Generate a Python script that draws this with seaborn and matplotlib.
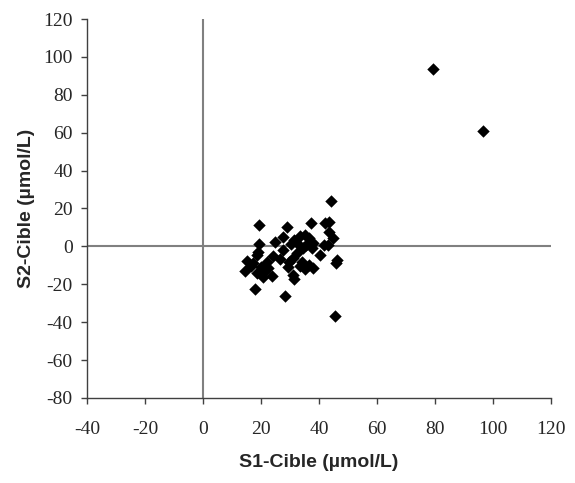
import matplotlib
matplotlib.use("Agg")
import matplotlib.pyplot as plt
import seaborn as sns
import pandas as pd

s1_cible = [79.2, 96.7, 45.6, 44.0,
            19.3, 28.8, 37.2, 42.1, 43.6, 43.6, 44.7, 27.7, 24.8, 19.3,
            31.5, 33.5, 35.0, 36.5, 38.0, 35.5, 33.0, 30.5, 34.5, 41.7, 43.1,
            37.5, 27.7, 19.1, 18.5, 24.2, 32.3, 40.3, 31.0, 29.5,
            15.3, 17.4, 22.0, 22.5, 46.3, 45.9, 14.5, 18.5, 20.8, 23.7, 29.4,
            31.1, 31.4, 17.9, 28.2, 33.5, 35.0, 36.5, 38.0, 34.0, 26.5, 16.5,
            20.0, 21.0]
s2_cible = [93.6, 61.0, -36.5, 23.7,
            11.4, 10.5, 12.6, 12.6, 13.1, 7.8, 4.3, 5.2, 2.2, 1.3,
            3.5, 5.5, 6.0, 4.5, 2.0, 1.0, 0.5, 1.5, -1.0, 0.5, 1.0,
            -1.0, -1.8, -2.7, -4.4, -4.9, -3.6, -4.5, -6.0, -8.0,
            -7.7, -8.9, -8.0, -11.5, -7.1, -8.5, -12.8, -14.2, -15.9, -15.4, -11.0,
            -15.0, -17.3, -22.6, -26.0, -10.5, -12.0, -10.0, -11.5, -8.0, -6.5, -10.5,
            -11.0, -13.5]

x_ticks = [-40, -20, 0, 20, 40, 60, 80, 100, 120]
y_ticks = [-80, -60, -40, -20, 0, 20, 40, 60, 80, 100, 120]

df = pd.DataFrame({"S1": s1_cible, "S2": s2_cible})

sns.set_style("white")
fig = plt.figure(figsize=(5.75, 4.83), dpi=100)
ax = fig.add_axes([87/575, 1-398/483, (551-87)/575, (398-19)/483])

ax.axvline(0, color="#808080", lw=1.5, zorder=1)
ax.axhline(0, color="#808080", lw=1.5, zorder=1)

sns.scatterplot(data=df, x="S1", y="S2", marker="D", s=40, color="black",
                edgecolor="black", linewidth=0, ax=ax, zorder=3)

ax.set_xlim(-40, 120)
ax.set_ylim(-80, 120)
ax.set_xticks(x_ticks)
ax.set_yticks(y_ticks)
ax.set_xticklabels([str(t) for t in x_ticks], family="Liberation Serif", fontsize=14)
ax.set_yticklabels([str(t) for t in y_ticks], family="Liberation Serif", fontsize=14)
ax.tick_params(axis="both", direction="out", length=4.3, width=1, color="#404040",
               bottom=True, left=True)
ax.tick_params(axis="x", pad=12)
ax.tick_params(axis="y", pad=6)

for side in ["top", "right"]:
    ax.spines[side].set_visible(False)
for side in ["left", "bottom"]:
    ax.spines[side].set_color("#404040")
    ax.spines[side].set_linewidth(1)

ax.set_xlabel("S1-Cible (µmol/L)", family="Liberation Sans", fontweight="bold",
              fontsize=14, labelpad=12)
ax.set_ylabel("S2-Cible (µmol/L)", family="Liberation Sans", fontweight="bold",
              fontsize=14, labelpad=6)

fig.savefig("out.png", dpi=100)
